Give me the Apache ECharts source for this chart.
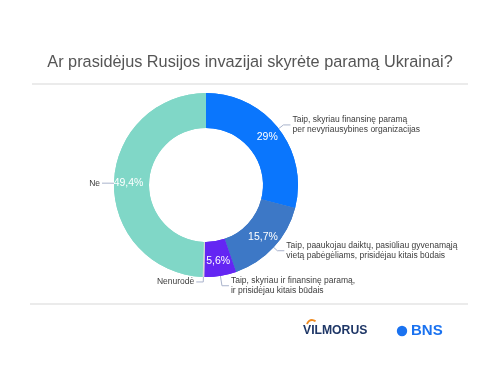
<!DOCTYPE html>
<html><head><meta charset="utf-8">
<script src="https://cdn.jsdelivr.net/npm/echarts@6/dist/echarts.min.js"></script>
<style>html,body{margin:0;padding:0;background:#fff}#c{width:500px;height:375px}</style>
</head><body><div id="c"></div>
<script>
const titleText = "Ar prasidėjus Rusijos invazijai skyrėte paramą Ukrainai?";
const categories = [
  "Taip, skyriau finansinę paramą\nper nevyriausybines organizacijas",
  "Taip, paaukojau daiktų, pasiūliau gyvenamąją\nvietą pabėgėliams, prisidėjau kitais būdais",
  "Taip, skyriau ir finansinę paramą,\nir prisidėjau kitais būdais",
  "Nenurodė",
  "Ne"
];
const values = [29, 15.7, 5.6, 0.3, 49.4];
const showValue = [true, true, true, false, true];
const colors = ["#0a76fd", "#3d78c6", "#6426f3", "#d8d8d8", "#80d7c7"];
const lineLen = [6, 5, 10, 5, 5];

const FONT = "Liberation Sans, Arial, sans-serif";
const chart = echarts.init(document.getElementById('c'), null, {renderer: 'canvas'});
const data = categories.map((n, i) => ({name: n, value: values[i], itemStyle: {color: colors[i]},
  labelLine: {length: lineLen[i]}}));
const fmt = v => String(v).replace('.', ',') + '%';

chart.setOption({
  animation: false,
  backgroundColor: '#fff',
  title: {
    text: titleText, left: 'center', top: 50,
    textStyle: {fontFamily: FONT, fontSize: 16.3, fontWeight: 'normal', color: '#555'}
  },
  series: [
    {
      type: 'pie', center: [206, 185], radius: [57, 92], startAngle: 90, clockwise: true,
      avoidLabelOverlap: false, silent: true,
      data: data,
      label: {
        show: true, position: 'outside', fontFamily: FONT, fontSize: 8.5, color: '#3c3c3c',
        lineHeight: 10, fontWeight: 500, distanceToLabelLine: 2
      },
      labelLine: {show: true, length: 5, length2: 7, lineStyle: {color: '#a9b3cc', width: 1}}
    },
    {
      type: 'pie', center: [206, 185], radius: [57, 92], startAngle: 90, clockwise: true,
      avoidLabelOverlap: false, silent: true,
      data: data.map((d, i) => ({name: d.name, value: d.value, itemStyle: {color: colors[i]},
        label: {show: showValue[i]}})),
      label: {
        position: 'inside', fontFamily: FONT, fontSize: 10.5, color: '#fff',
        formatter: p => fmt(p.value)
      },
      labelLine: {show: false}
    }
  ],
  graphic: [
    {type: 'line', shape: {x1: 32, y1: 84, x2: 468, y2: 84}, style: {stroke: '#e4e4e4', lineWidth: 1.5}},
    {type: 'line', shape: {x1: 30, y1: 304, x2: 468, y2: 304}, style: {stroke: '#e4e4e4', lineWidth: 1.5}},
    {type: 'text', left: 303, top: 325, style: {text: 'VILMORUS', fontFamily: FONT, fontSize: 12.2, fontWeight: 'bold', fill: '#1f3767'}},
    {type: 'arc', shape: {cx: 312, cy: 325, r: 5, startAngle: Math.PI * 1.05, endAngle: Math.PI * 1.75}, style: {stroke: '#f08a1e', lineWidth: 1.8, fill: null}},
    {type: 'circle', shape: {cx: 402, cy: 331, r: 5.2}, style: {fill: '#1a72f0'}},
    {type: 'text', left: 411, top: 323, style: {text: 'BNS', fontFamily: FONT, fontSize: 15, fontWeight: 'bold', fill: '#1a72f0'}}
  ]
});
</script></body></html>
